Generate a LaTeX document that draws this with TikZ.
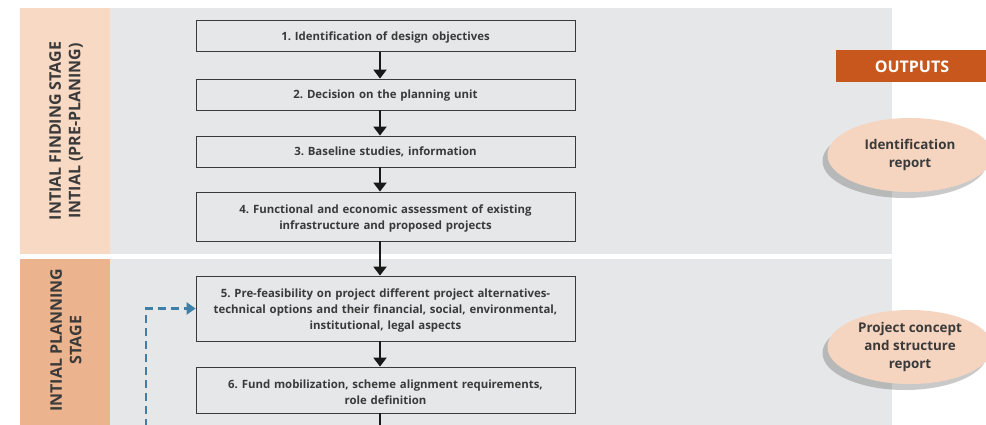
\documentclass[tikz,border=0pt]{standalone}
\usepackage{fontspec}
\setmainfont{Open Sans}
\usetikzlibrary{arrows.meta,shadows,shapes.geometric}
\definecolor{panelgrey}{HTML}{E6E7E8}
\definecolor{peachlight}{HTML}{F8D9C4}
\definecolor{peachdark}{HTML}{EBB48E}
\definecolor{outorange}{HTML}{C8571E}
\definecolor{ellfill}{HTML}{F6D5C0}
\definecolor{txt}{HTML}{3A3A3A}
\definecolor{dashblue}{HTML}{3F7EA6}
\tikzset{
  stepbox/.style={draw=txt, line width=0.8pt, fill=panelgrey, minimum width=379pt, text width=375pt, align=center, font=\fontsize{11.4}{16}\selectfont\bfseries, text=txt, inner sep=2pt, execute at end node={\par\vspace*{-4pt}}},
  flow/.style={line width=1.9pt, draw=black!90, -{Triangle[width=13pt,length=9pt]}},
  stagelabel/.style={rotate=90, align=center, font=\fontsize{16}{19.5}\selectfont\bfseries, text=txt},
  outell/.style={ellipse, fill=ellfill, minimum width=165pt, minimum height=74pt, inner sep=1pt, align=center, font=\fontsize{13.4}{18}\selectfont\bfseries, text=txt, drop shadow={shadow xshift=-5pt, shadow yshift=-6pt, opacity=0.3, fill=black!70}}
}
\begin{document}
\frenchspacing
\begin{tikzpicture}[x=1pt,y=-1pt]
\useasboundingbox (0,0) rectangle (986,424);
\begin{scope}
\clip (0,0) rectangle (986,424);
% panels
\fill[panelgrey] (110,8) rectangle (892,254);
\fill[peachlight] (20,8) rectangle (110,254);
\fill[panelgrey] (110,259) rectangle (892,430);
\fill[peachdark] (20,259) rectangle (110,430);
\node[stagelabel] (st1) at (66,131) {INTIAL FINDING STAGE\\INTIAL (PRE-PLANING)};
\node[stagelabel] (st2) at (66,340) {INTIAL PLANNING\\STAGE};
% boxes
\node[stepbox, minimum height=31pt] (b1) at (385.5,36) {1. Identification of design objectives};
\node[stepbox, minimum height=31pt] (b2) at (385.5,94.5) {2. Decision on the planning unit};
\node[stepbox, minimum height=31pt] (b3) at (385.5,151.5) {3. Baseline studies, information};
\node[stepbox, minimum height=49pt] (b4) at (385.5,216.5) {4. Functional and economic assessment of existing\\infrastructure and proposed projects};
\node[stepbox, minimum height=65pt] (b5) at (385.5,308.5) {5. Pre-feasibility on project different project alternatives-\\technical options and their financial, social, environmental,\\institutional, legal aspects};
\node[stepbox, minimum height=46pt] (b6) at (385.5,390) {6. Fund mobilization, scheme alignment requirements,\\role definition};
\coordinate (cut) at (380,440);
\coordinate (dstart) at (146,440);
% arrows
\draw[flow] (b1.south -| 380,0) -- (b2.north -| 380,0);
\draw[flow] (b2.south -| 380,0) -- (b3.north -| 380,0);
\draw[flow] (b3.south -| 380,0) -- (b4.north -| 380,0);
\draw[flow] (b4.south -| 380,0) -- (b5.north -| 380,0);
\draw[flow] (b5.south -| 380,0) -- (b6.north -| 380,0);
\draw[line width=1.9pt, draw=black!90] (b6.south -| 380,0) -- (cut);
\draw[dashblue, line width=2.4pt, dash pattern=on 8pt off 5pt, -{Triangle[width=12pt,length=9pt]}] (dstart) |- (b5.west);
% outputs
\fill[outorange] (836,50) rectangle (990,82);
\node[font=\fontsize{16}{18}\selectfont\bfseries, text=white] (out) at (912,67) {OUTPUTS};
\node[outell] (e1) at (910,155) {Identification\\report};
\node[outell] (e2) at (910,347) {Project concept\\and structure\\report};
\end{scope}
\end{tikzpicture}
\end{document}
